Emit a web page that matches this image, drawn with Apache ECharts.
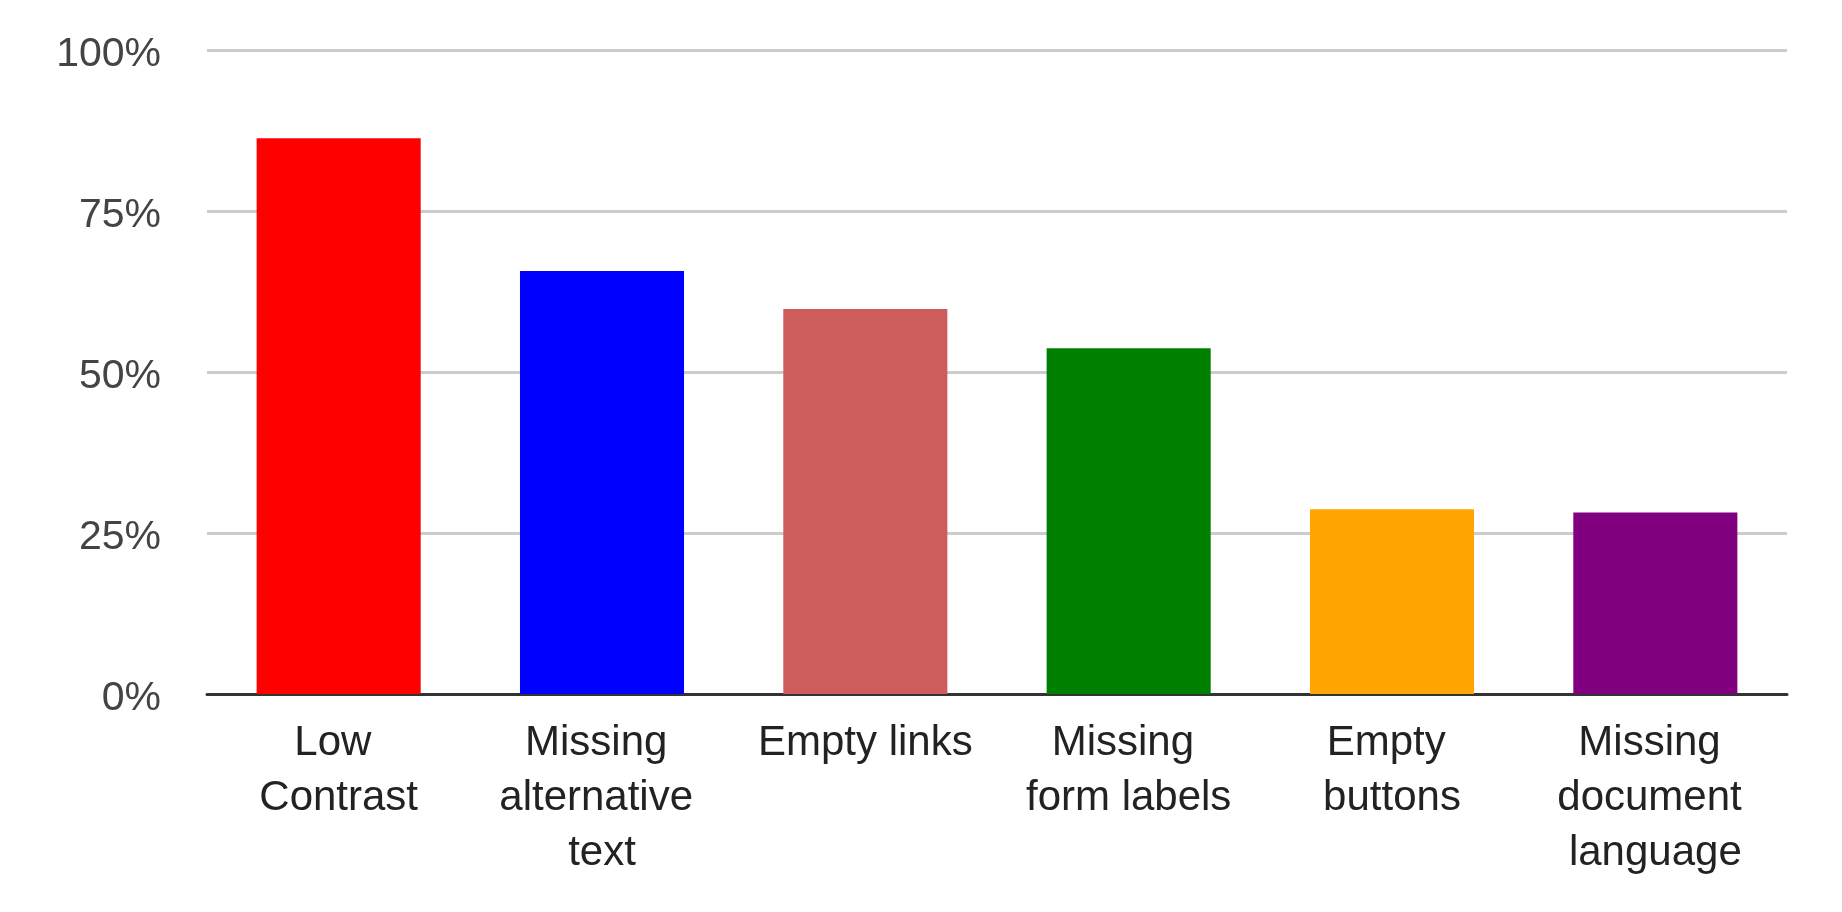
<!DOCTYPE html>
<html>
<head>
<meta charset="utf-8">
<title>Accessibility issues</title>
<script src="https://cdn.jsdelivr.net/npm/echarts@6/dist/echarts.min.js"></script>
<style>
  html, body { margin: 0; padding: 0; background: #fff; }
  #chart { width: 1842px; height: 912px; }
</style>
</head>
<body>
<div id="chart"></div>
<script>
// share of pages with each issue, in percent
var categories = [
  'Low Contrast',
  'Missing alternative text',
  'Empty links',
  'Missing form labels',
  'Empty buttons',
  'Missing document language'
];
var values = [86.3, 65.7, 59.8, 53.7, 28.7, 28.2];
var barColors = ['#ff0000', '#0000ff', '#cd5c5c', '#008000', '#ffa500', '#800080'];
var yTicks = [0, 25, 50, 75, 100];

function initChart(dom) {
  var myChart = echarts.init(document.getElementById(dom));
  var font = '"Liberation Sans", Arial, sans-serif';
  var option = {
    animation: false,
    textStyle: { fontFamily: font },
    grid: { left: 207, right: 55, top: 50, bottom: 218 },
    xAxis: {
      type: 'category',
      data: categories,
      axisTick: { show: false },
      axisLine: { lineStyle: { color: '#333', width: 3 } },
      axisLabel: {
        color: '#222',
        fontSize: 42,
        fontFamily: font,
        lineHeight: 55,
        margin: 22,
        interval: 0,
        width: 225,
        overflow: 'break'
      }
    },
    yAxis: {
      type: 'value',
      min: yTicks[0],
      max: yTicks[yTicks.length - 1],
      interval: yTicks[1] - yTicks[0],
      axisLine: { show: false },
      axisTick: { show: false },
      splitLine: { lineStyle: { color: '#cccccc', width: 3 } },
      axisLabel: {
        margin: 46,
        formatter: '{t|{value}%}',
        rich: {
          t: {
            color: '#444',
            fontSize: 41,
            fontFamily: font,
            padding: [10, 0, 0, 0]
          }
        }
      }
    },
    series: [
      {
        type: 'bar',
        barCategoryGap: '37.7%',
        data: values.map(function (v, i) {
          return { value: v, itemStyle: { color: barColors[i] } };
        })
      }
    ]
  };
  myChart.setOption(option);
  return myChart;
}

initChart('chart');
</script>
</body>
</html>
